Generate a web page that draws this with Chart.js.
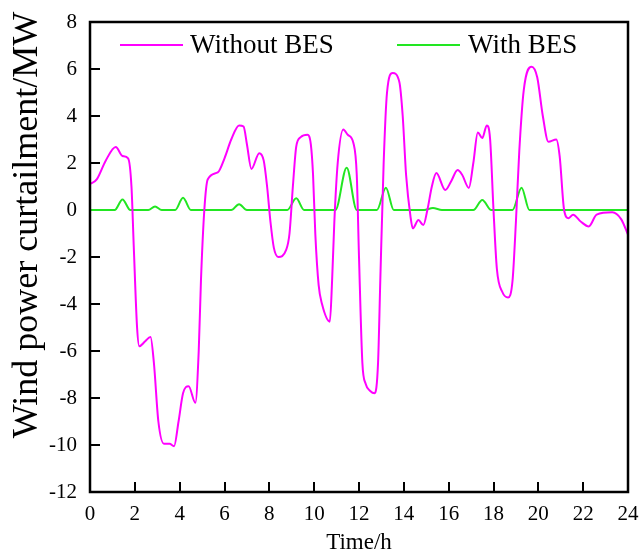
<!DOCTYPE html>
<html>
<head>
<meta charset="utf-8">
<script src="https://cdn.jsdelivr.net/npm/chart.js@4.4.1/dist/chart.umd.min.js"></script>
<style>
  html, body { margin: 0; padding: 0; background: #fff; }
  #wrap { width: 643px; height: 554px; }
</style>
</head>
<body>
<div id="wrap"><canvas id="chart"></canvas></div>
<script>
// curtailment without battery storage (MW)
const tNoBes = [0, 0.3, 0.7, 1.15, 1.45, 1.7, 1.85, 1.95, 2.1, 2.2, 2.45, 2.7, 2.85, 3.05, 3.3, 3.55, 3.75, 3.95, 4.15, 4.4, 4.7, 4.85, 4.95, 5.1, 5.25, 5.7, 6.0, 6.3, 6.65, 6.85, 7.0, 7.2, 7.55, 7.75, 7.9, 8.05, 8.2, 8.4, 8.75, 8.9, 9.05, 9.2, 9.4, 9.7, 9.85, 9.95, 10.05, 10.2, 10.35, 10.7, 10.8, 10.9, 11.05, 11.3, 11.5, 11.75, 11.9, 12.0, 12.15, 12.3, 12.5, 12.7, 12.85, 12.95, 13.1, 13.25, 13.5, 13.8, 13.95, 14.1, 14.3, 14.4, 14.65, 14.87, 15.05, 15.25, 15.45, 15.85, 16.1, 16.4, 16.6, 16.9, 17.1, 17.3, 17.5, 17.7, 17.85, 18.0, 18.15, 18.4, 18.65, 18.85, 19.0, 19.15, 19.35, 19.7, 19.95, 20.2, 20.45, 20.8, 20.95, 21.15, 21.35, 21.55, 21.9, 22.25, 22.6, 23.3, 23.7, 24.0];
const vNoBes = [1.1, 1.3, 2.1, 2.68, 2.3, 2.2, 1.0, -1.5, -5.0, -5.8, -5.6, -5.4, -6.5, -9.0, -9.95, -9.95, -10.05, -9.0, -7.8, -7.5, -8.2, -6.0, -3.0, 0.0, 1.3, 1.6, 2.2, 3.0, 3.6, 3.55, 2.8, 1.75, 2.42, 2.1, 1.0, -0.5, -1.6, -2.0, -1.7, -1.0, 1.0, 2.7, 3.1, 3.2, 2.8, 1.5, -1.0, -3.2, -4.0, -4.75, -3.0, -0.5, 2.0, 3.43, 3.2, 2.85, 1.5, -2.0, -6.5, -7.4, -7.7, -7.8, -6.5, -3.0, 2.0, 5.0, 5.83, 5.45, 4.0, 1.5, -0.3, -0.78, -0.43, -0.64, 0.0, 1.0, 1.57, 0.85, 1.2, 1.7, 1.5, 0.94, 2.0, 3.3, 3.06, 3.6, 3.0, 0.0, -2.5, -3.5, -3.72, -3.0, -0.5, 2.5, 5.1, 6.1, 5.65, 4.0, 2.9, 3.0, 2.3, 0.0, -0.35, -0.2, -0.5, -0.7, -0.2, -0.1, -0.4, -1.05];

// curtailment with battery storage (MW)
const tBes = [0, 1.1, 1.45, 1.8, 2.6, 2.9, 3.2, 3.8, 4.15, 4.5, 6.3, 6.65, 7.0, 8.8, 9.2, 9.55, 10.95, 11.45, 11.9, 12.8, 13.2, 13.55, 14.9, 15.3, 15.7, 17.1, 17.5, 17.9, 18.85, 19.25, 19.6, 24];
const vBes = [0, 0, 0.45, 0, 0, 0.15, 0, 0, 0.52, 0, 0, 0.25, 0, 0, 0.5, 0, 0, 1.8, 0, 0, 0.95, 0, 0, 0.08, 0, 0, 0.43, 0, 0, 0.95, 0, 0];

const seriesNames = ['Without BES', 'With BES'];
const seriesColors = ['#ff00ff', '#22e622'];
const yTitle = 'Wind power curtailment/MW';

const FONT = '"Liberation Serif", "Times New Roman", serif';

function toPoints(ts, vs) {
  return ts.map((t, i) => ({ x: t, y: vs[i] }));
}

// inward ticks under the curves, then frame, y title and in-plot legend on top
const framePlugin = {
  id: 'frame',
  beforeDatasetsDraw(chart) {
    const { ctx, chartArea: a, scales } = chart;
    ctx.save();
    ctx.strokeStyle = '#000';
    ctx.lineWidth = 2;
    ctx.beginPath();
    scales.x.ticks.forEach(t => {
      const px = Math.round(scales.x.getPixelForValue(t.value));
      if (px <= a.left + 1 || px >= a.right - 1) return;
      ctx.moveTo(px, a.bottom);
      ctx.lineTo(px, a.bottom - 10);
    });
    scales.y.ticks.forEach(t => {
      const py = Math.round(scales.y.getPixelForValue(t.value));
      if (py <= a.top + 1 || py >= a.bottom - 1) return;
      ctx.moveTo(a.left, py);
      ctx.lineTo(a.left + 10, py);
    });
    ctx.stroke();
    ctx.restore();
  },
  afterDraw(chart) {
    const { ctx, chartArea: a } = chart;
    ctx.save();
    ctx.strokeStyle = '#000';
    ctx.lineWidth = 2.5;
    ctx.strokeRect(a.left, a.top, a.right - a.left, a.bottom - a.top);

    // y title, sitting a bit above the middle of the axis as in the source
    ctx.fillStyle = '#000';
    ctx.font = '36px ' + FONT;
    ctx.textAlign = 'center';
    ctx.textBaseline = 'middle';
    ctx.translate(28, 225);
    ctx.rotate(-Math.PI / 2);
    ctx.fillText(yTitle, 0, 0);
    ctx.setTransform(1, 0, 0, 1, 0, 0);

    // legend
    const ly = a.top + 23;
    const items = [
      { x0: 120, x1: 183, tx: 190 },
      { x0: 397, x1: 460, tx: 468 }
    ];
    ctx.font = '27px ' + FONT;
    ctx.textAlign = 'left';
    items.forEach((it, i) => {
      ctx.strokeStyle = seriesColors[i];
      ctx.lineWidth = 2;
      ctx.beginPath();
      ctx.moveTo(it.x0, ly);
      ctx.lineTo(it.x1, ly);
      ctx.stroke();
      ctx.fillText(seriesNames[i], it.tx, ly + 1);
    });
    ctx.restore();
  }
};

new Chart(document.getElementById('chart'), {
  type: 'line',
  data: {
    datasets: [
      {
        label: seriesNames[0],
        data: toPoints(tNoBes, vNoBes),
        borderColor: seriesColors[0],
        borderWidth: 2,
        pointRadius: 0,
        cubicInterpolationMode: 'monotone',
        fill: false
      },
      {
        label: seriesNames[1],
        data: toPoints(tBes, vBes),
        borderColor: seriesColors[1],
        borderWidth: 2,
        pointRadius: 0,
        cubicInterpolationMode: 'monotone',
        fill: false
      }
    ]
  },
  options: {
    responsive: true,
    maintainAspectRatio: false,
    animation: false,
    layout: { padding: { top: 22, right: 15, left: 0, bottom: 0 } },
    plugins: { legend: { display: false }, tooltip: { enabled: false } },
    scales: {
      x: {
        type: 'linear',
        min: 0,
        max: 24,
        afterFit(s) { s.height = 62; s.paddingLeft = 0; s.paddingRight = 0; },
        grid: { display: false, drawTicks: false },
        border: { display: false },
        ticks: { stepSize: 2, padding: 10, color: '#000', maxRotation: 0, font: { family: FONT, size: 21 } },
        title: { display: true, text: 'Time/h', color: '#000', padding: { top: 0, bottom: -3 }, font: { family: FONT, size: 23 } }
      },
      y: {
        min: -12,
        max: 8,
        afterFit(s) { s.width = 90; s.paddingTop = 0; s.paddingBottom = 0; },
        grid: { display: false, drawTicks: false },
        border: { display: false },
        ticks: { stepSize: 2, padding: 13, color: '#000', font: { family: FONT, size: 21 } },
        title: { display: false }
      }
    }
  },
  plugins: [framePlugin]
});
</script>
</body>
</html>
